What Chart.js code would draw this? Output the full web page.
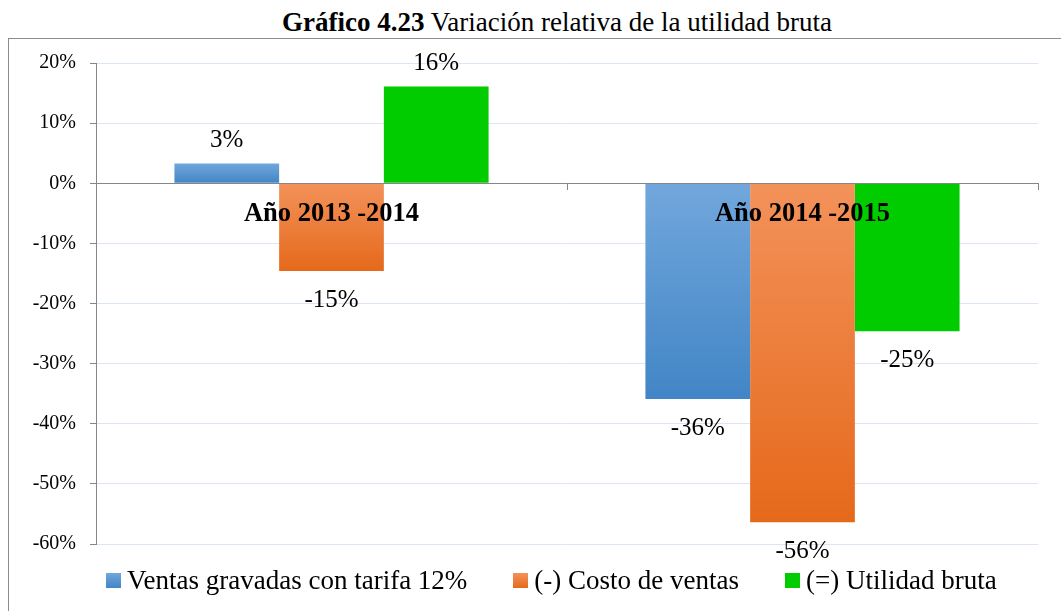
<!DOCTYPE html>
<html>
<head>
<meta charset="utf-8">
<script src="https://cdn.jsdelivr.net/npm/chart.js@4/dist/chart.umd.min.js"></script>
<style>
html,body{margin:0;padding:0;background:#fff;overflow:hidden;width:1061px;height:611px;}
#title{position:absolute;left:0;top:7px;width:1114px;text-align:center;font-family:"Liberation Serif",serif;font-size:27px;line-height:30px;color:#000;white-space:nowrap;}
#frame{position:absolute;left:8px;top:38px;width:1200px;height:800px;border-left:1px solid #8c8c8c;border-top:1px solid #8c8c8c;}
#c{position:absolute;left:0;top:0;}
</style>
</head>
<body>
<div id="title"><b>Gráfico 4.23</b> Variación relativa de la utilidad bruta</div>
<div id="frame"></div>
<canvas id="c" width="1061" height="611"></canvas>
<script>
// ---- data ----
const categories = ['Año 2013 -2014', 'Año 2014 -2015'];
const seriesNames = ['Ventas gravadas con tarifa 12%', '(-) Costo de ventas', '(=) Utilidad bruta'];
const ventasGravadas = [0.033, -0.359];
const costoVentas = [-0.146, -0.564];
const utilidadBruta = [0.161, -0.246];
const yMin = -0.6, yMax = 0.2, yStep = 0.1;
// ---- colours (top, bottom of gradient) ----
const seriesColors = [
  ['#71a7dc', '#4285c6'],
  ['#f3925a', '#e5691b'],
  ['#00cc00', '#00cc00']
];

function gradFill(idx) {
  return function (ctx) {
    const chart = ctx.chart;
    const cols = seriesColors[idx];
    if (ctx.type !== 'data' || !chart.chartArea) return cols[1];
    const ys = chart.scales.y;
    const y0 = ys.getPixelForValue(0), y1 = ys.getPixelForValue(ctx.raw);
    const top = Math.min(y0, y1), bot = Math.max(y0, y1);
    if (bot - top < 1) return cols[1];
    const g = chart.ctx.createLinearGradient(0, top, 0, bot);
    g.addColorStop(0, cols[0]);
    g.addColorStop(1, cols[1]);
    return g;
  };
}

const valueLabels = {
  id: 'valueLabels',
  afterDatasetsDraw(chart) {
    const c = chart.ctx;
    c.save();
    c.font = '25px "Liberation Serif", serif';
    c.fillStyle = '#000';
    c.textAlign = 'center';
    c.textBaseline = 'middle';
    chart.data.datasets.forEach((ds, i) => {
      const meta = chart.getDatasetMeta(i);
      meta.data.forEach((el, j) => {
        const v = ds.data[j];
        const y = v >= 0 ? el.y - 23 : el.y + 29;
        c.fillText(Math.round(v * 100) + '%', el.x, y);
      });
    });
    c.restore();
  }
};

const bottomLegend = {
  id: 'bottomLegend',
  afterDraw(chart) {
    const c = chart.ctx;
    c.save();
    c.font = '27px "Liberation Serif", serif';
    c.textBaseline = 'alphabetic';
    c.textAlign = 'left';
    const box = 15, gapBT = 6, gapItem = 46, baseY = 589, boxTop = 573;
    let x = 106;
    chart.data.datasets.forEach((ds, i) => {
      const cols = seriesColors[i];
      const w = c.measureText(ds.label).width;
      const g = c.createLinearGradient(0, boxTop, 0, boxTop + box);
      g.addColorStop(0, cols[0]);
      g.addColorStop(1, cols[1]);
      c.fillStyle = g;
      c.fillRect(Math.round(x), boxTop, box, box);
      c.fillStyle = '#000';
      c.fillText(ds.label, x + box + gapBT, baseY);
      x += box + gapBT + w + gapItem;
    });
    c.restore();
  }
};

const seriesData = [ventasGravadas, costoVentas, utilidadBruta];

new Chart(document.getElementById('c'), {
  type: 'bar',
  data: {
    labels: categories,
    datasets: seriesNames.map((name, i) => ({
      label: name,
      data: seriesData[i],
      backgroundColor: gradFill(i),
      borderWidth: 0,
      categoryPercentage: 0.667,
      barPercentage: 1.0
    }))
  },
  options: {
    responsive: false,
    animation: false,
    devicePixelRatio: 1,
    layout: { padding: { top: 63, right: 23, bottom: 67, left: 0 } },
    plugins: { legend: { display: false }, title: { display: false }, tooltip: { enabled: false } },
    scales: {
      x: {
        type: 'category',
        position: { y: 0 },
        offset: true,
        grid: { offset: true, drawOnChartArea: false, drawTicks: true, tickLength: 6, tickColor: '#868686', color: '#868686', z: 1 },
        border: { display: true, color: '#868686', z: 1 },
        ticks: { font: { family: '"Liberation Serif", serif', size: 26.5, weight: 'bold' }, color: '#000', padding: 9, maxRotation: 0, autoSkip: false, z: 2 }
      },
      y: {
        min: yMin,
        max: yMax,
        afterFit(s) { s.width = 96; },
        ticks: {
          stepSize: yStep,
          callback: v => Math.round(v * 100) + '%',
          font: { family: '"Liberation Serif", serif', size: 20 },
          color: '#000',
          padding: 14
        },
        grid: {
          color: ctx => (ctx.tick && Math.abs(ctx.tick.value) < 1e-9) ? '#868686' : '#dce6f2',
          tickColor: '#868686',
          tickLength: 6,
          lineWidth: 1
        },
        border: { color: '#868686' }
      }
    }
  },
  plugins: [valueLabels, bottomLegend]
});
</script>
</body>
</html>
